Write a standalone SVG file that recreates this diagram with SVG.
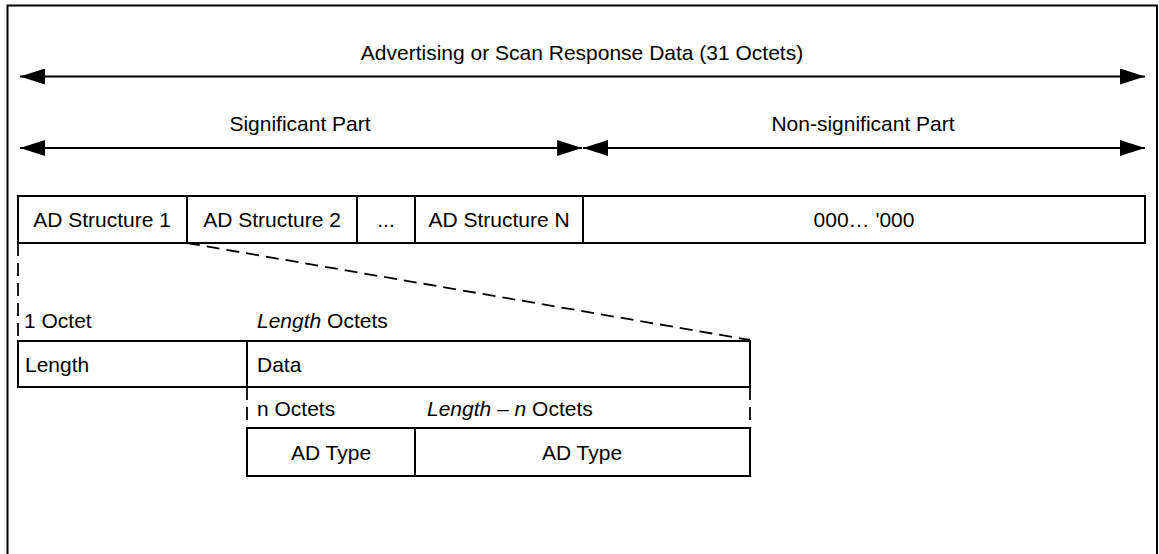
<svg xmlns="http://www.w3.org/2000/svg" width="1159" height="554" viewBox="0 0 1159 554">
<style>
.box{fill:#fff;stroke:#000;stroke-width:2}
.t{font-family:"Liberation Sans",Arial,sans-serif;font-size:21px;fill:#000}
.c{text-anchor:middle}
.arr{stroke:#000;stroke-width:2;fill:none}
.dash{stroke:#000;stroke-width:1.8;fill:none;stroke-dasharray:13 7}
</style>
<defs>
<marker id="ah" viewBox="0 0 25 16" refX="25" refY="8" markerWidth="25" markerHeight="16" markerUnits="userSpaceOnUse" orient="auto-start-reverse">
<path d="M0,0 L25,8 L0,16 Z" fill="#000"/>
</marker>
</defs>
<rect x="0" y="0" width="1159" height="554" fill="#fff"/>
<path d="M7.5,560 V5.5 H1157 V560" fill="none" stroke="#000" stroke-width="2"/>
<g id="connectors">
<line class="arr" x1="20" y1="76.5" x2="1145" y2="76.5" marker-start="url(#ah)" marker-end="url(#ah)"/>
<line class="arr" x1="20" y1="148" x2="582" y2="148" marker-start="url(#ah)" marker-end="url(#ah)"/>
<line class="arr" x1="583" y1="148" x2="1145" y2="148" marker-start="url(#ah)" marker-end="url(#ah)"/>
<line class="dash" x1="18" y1="243" x2="18" y2="341"/>
<line class="dash" x1="187" y1="243" x2="750" y2="340"/>
<line class="dash" x1="247" y1="387" x2="247" y2="428"/>
<line class="dash" x1="750" y1="387" x2="750" y2="428"/>
</g>
<text class="t c" x="582" y="60">Advertising or Scan Response Data (31 Octets)</text>
<text class="t c" x="300" y="131">Significant Part</text>
<text class="t c" x="863" y="131">Non-significant Part</text>
<g id="ad1"><rect class="box" x="18" y="196" width="169" height="47"/><text class="t c" x="102" y="227">AD Structure 1</text></g>
<g id="ad2"><rect class="box" x="187" y="196" width="170" height="47"/><text class="t c" x="272" y="227">AD Structure 2</text></g>
<g id="adDots"><rect class="box" x="357" y="196" width="58" height="47"/><text class="t c" x="386" y="227">...</text></g>
<g id="adN"><rect class="box" x="415" y="196" width="168" height="47"/><text class="t c" x="499" y="227">AD Structure N</text></g>
<g id="zeros"><rect class="box" x="583" y="196" width="562" height="47"/><text class="t c" x="864" y="227">000… '000</text></g>
<text class="t" x="24" y="328">1 Octet</text>
<text class="t" x="257" y="328"><tspan font-style="italic">Length</tspan> Octets</text>
<g id="length"><rect class="box" x="18" y="341" width="229" height="46"/><text class="t" x="25" y="372">Length</text></g>
<g id="data"><rect class="box" x="247" y="341" width="503" height="46"/><text class="t" x="257" y="372">Data</text></g>
<text class="t" x="257" y="416">n Octets</text>
<text class="t" x="427" y="416"><tspan font-style="italic">Length</tspan> – <tspan font-style="italic">n</tspan> Octets</text>
<g id="adtype1"><rect class="box" x="247" y="428" width="168" height="48"/><text class="t c" x="331" y="460">AD Type</text></g>
<g id="adtype2"><rect class="box" x="415" y="428" width="335" height="48"/><text class="t c" x="582" y="460">AD Type</text></g>
</svg>
